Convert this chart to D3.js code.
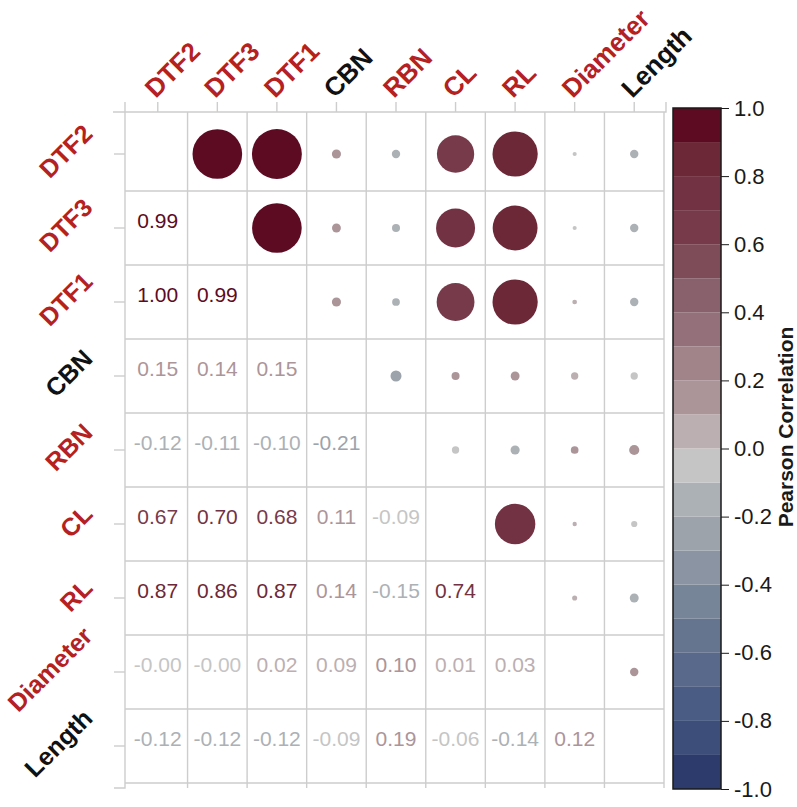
<!DOCTYPE html>
<html>
<head>
<meta charset="utf-8">
<script src="https://cdn.jsdelivr.net/npm/d3@7"></script>
<style>
  body { margin: 0; background: #fff; }
  svg { display: block; font-family: "Liberation Sans", Arial, sans-serif; }
</style>
</head>
<body>
<svg width="797" height="807"></svg>
<script>
// variables, in matrix order
var vars = ["DTF2", "DTF3", "DTF1", "CBN", "RBN", "CL", "RL", "Diameter", "Length"];
var varColors = ["#b5211f", "#b5211f", "#b5211f", "#111111", "#b5211f", "#b5211f", "#b5211f", "#b5211f", "#111111"];

// lower triangle of the correlation matrix (row i, columns 0..i-1)
var lower = [
  [],
  [0.99],
  [0.998, 0.99],
  [0.15, 0.14, 0.15],
  [-0.12, -0.11, -0.102, -0.21],
  [0.67, 0.70, 0.68, 0.11, -0.09],
  [0.87, 0.86, 0.87, 0.14, -0.15, 0.74],
  [-0.004, -0.003, 0.02, 0.09, 0.101, 0.01, 0.03],
  [-0.12, -0.12, -0.12, -0.09, 0.19, -0.06, -0.14, 0.12]
];

// colour bins, from -1.0 up to 1.0 in steps of 0.1
var binColors = [
  "#2c3b6c", "#3d4e7b", "#4a5c84", "#59698b", "#66758f",
  "#778599", "#8a94a2", "#9ca3ab", "#acb1b6", "#c5c5c5",
  "#bcafb1", "#ac9599", "#a0848a", "#94717a", "#89616c",
  "#7e4b59", "#773a4a", "#733243", "#6d2838", "#5d0b23"
];
var legendTicks = [1.0, 0.8, 0.6, 0.4, 0.2, 0.0, -0.2, -0.4, -0.6, -0.8, -1.0];

var svg = d3.select("svg");
var gridColor = "#cdcdcd";

var x = d3.scaleBand().domain(vars).range([128, 664]);
var y = d3.scaleBand().domain(vars).range([117, 783]);
var color = d3.scaleQuantize().domain([-1, 1]).range(binColors);
var radius = d3.scaleLinear().domain([0, 0.12, 0.2, 0.7, 1]).range([2, 4.2, 5.2, 19.5, 25]);

function fmt(v, n) {
  return (v < 0 ? "-" : "") + Math.abs(v).toFixed(n);
}

// full symmetric cell list
var cells = [];
lower.forEach(function(row, i) {
  row.forEach(function(v, j) {
    cells.push({row: vars[i], col: vars[j], v: v, upper: false});
    cells.push({row: vars[j], col: vars[i], v: v, upper: true});
  });
});

// grid
var grid = svg.append("g");
var xEdges = vars.slice(1).map(function(d) { return x(d); }).concat([x.range()[1]]);
var yEdges = vars.slice(1).map(function(d) { return y(d); }).concat([y.range()[1]]);
grid.selectAll(".vl").data(xEdges).enter().append("line")
  .attr("x1", function(d) { return d; }).attr("x2", function(d) { return d; })
  .attr("y1", y.range()[0] - 5).attr("y2", y.range()[1] + 5)
  .attr("stroke", gridColor).attr("stroke-width", 1.4);
grid.selectAll(".hl").data(yEdges).enter().append("line")
  .attr("y1", function(d) { return d; }).attr("y2", function(d) { return d; })
  .attr("x1", x.range()[0] - 3).attr("x2", x.range()[1])
  .attr("stroke", gridColor).attr("stroke-width", 1.4);

// axes
var topAxis = svg.append("g")
  .attr("transform", "translate(0," + (y.range()[0] - 5) + ")")
  .call(d3.axisTop(x).tickSize(10).tickSizeOuter(10).tickFormat(""));
topAxis.select(".domain")
  .attr("d", "M" + (x.range()[0] - 15) + ",0H" + (x.range()[1] + 2) + "V-10");
var leftAxis = svg.append("g")
  .attr("transform", "translate(" + (x.range()[0] - 3) + ",0)")
  .call(d3.axisLeft(y).tickSize(11).tickSizeOuter(11).tickFormat(""));
leftAxis.select(".domain")
  .attr("d", "M0," + (y.range()[0] - 15) + "V" + (y.range()[1] + 5) + "H-11");
svg.selectAll(".domain, .tick line").attr("stroke", gridColor).attr("stroke-width", 1.4);

// variable labels
svg.append("g").selectAll("text").data(vars).enter().append("text")
  .attr("transform", function(d) {
    return "translate(" + (x(d) + x.bandwidth() / 2 - 2) + "," + (y.range()[0] - 18) + ") rotate(-45)";
  })
  .attr("fill", function(d, i) { return varColors[i]; })
  .attr("font-size", 26).attr("font-weight", "bold")
  .text(function(d) { return d; });

// left labels: right edge on a common line, box centred just above the row centre
var leftSize = 25;
var capH = leftSize * 0.72;
svg.append("g").selectAll("text").data(vars).enter().append("text")
  .attr("text-anchor", "end")
  .attr("fill", function(d, i) { return varColors[i]; })
  .attr("font-size", leftSize).attr("font-weight", "bold")
  .text(function(d) { return d; })
  .attr("transform", function(d) {
    var len = this.getComputedTextLength();
    var cy = y(d) + y.bandwidth() / 2 - 3 - 0.354 * (len - capH);
    return "translate(94," + cy + ") rotate(-45)";
  });

// circles (upper triangle)
svg.append("g").selectAll("circle").data(cells.filter(function(c) { return c.upper; }))
  .enter().append("circle")
  .attr("cx", function(d) { return x(d.col) + x.bandwidth() / 2; })
  .attr("cy", function(d) { return y(d.row) + y.bandwidth() / 2; })
  .attr("r", function(d) { return radius(Math.abs(d.v)); })
  .attr("fill", function(d) { return color(d.v); });

// numbers (lower triangle)
svg.append("g").selectAll("text").data(cells.filter(function(c) { return !c.upper; }))
  .enter().append("text")
  .attr("x", function(d) { return x(d.col) + x.bandwidth() / 2; })
  .attr("y", function(d) { return y(d.row) + y.bandwidth() / 2; })
  .attr("text-anchor", "middle")
  .attr("font-size", 21)
  .attr("fill", function(d) { return color(d.v); })
  .text(function(d) { return fmt(d.v, 2); });

// colour bar
var yLeg = d3.scaleLinear().domain([-1, 1]).range([789, 108]);
var legend = svg.append("g");
legend.selectAll("rect").data(binColors).enter().append("rect")
  .attr("x", 673).attr("width", 48)
  .attr("y", function(d, i) { return yLeg(-1 + 0.1 * (i + 1)); })
  .attr("height", function(d, i) { return yLeg(-1 + 0.1 * i) - yLeg(-1 + 0.1 * (i + 1)); })
  .attr("fill", function(d) { return d; });
legend.append("rect")
  .attr("x", 673).attr("width", 48)
  .attr("y", yLeg(1)).attr("height", yLeg(-1) - yLeg(1))
  .attr("fill", "none").attr("stroke", "#1a1a1a").attr("stroke-width", 1.5);
var legAxis = legend.append("g")
  .attr("transform", "translate(721,0)")
  .call(d3.axisRight(yLeg).tickValues(legendTicks).tickSize(8)
    .tickFormat(function(d) { return fmt(d, 1); }));
legAxis.select(".domain").remove();
legAxis.selectAll(".tick line").attr("stroke", "#1a1a1a");
legAxis.selectAll(".tick text")
  .attr("x", 13).attr("font-size", 22).attr("fill", "#1a1a1a")
  .attr("font-family", "'Liberation Sans', Arial, sans-serif");
legend.append("text")
  .attr("transform", "translate(793,427) rotate(-90)")
  .attr("text-anchor", "middle")
  .attr("font-size", 21).attr("font-weight", "bold").attr("fill", "#1a1a1a")
  .text("Pearson Correlation");
</script>
</body>
</html>
